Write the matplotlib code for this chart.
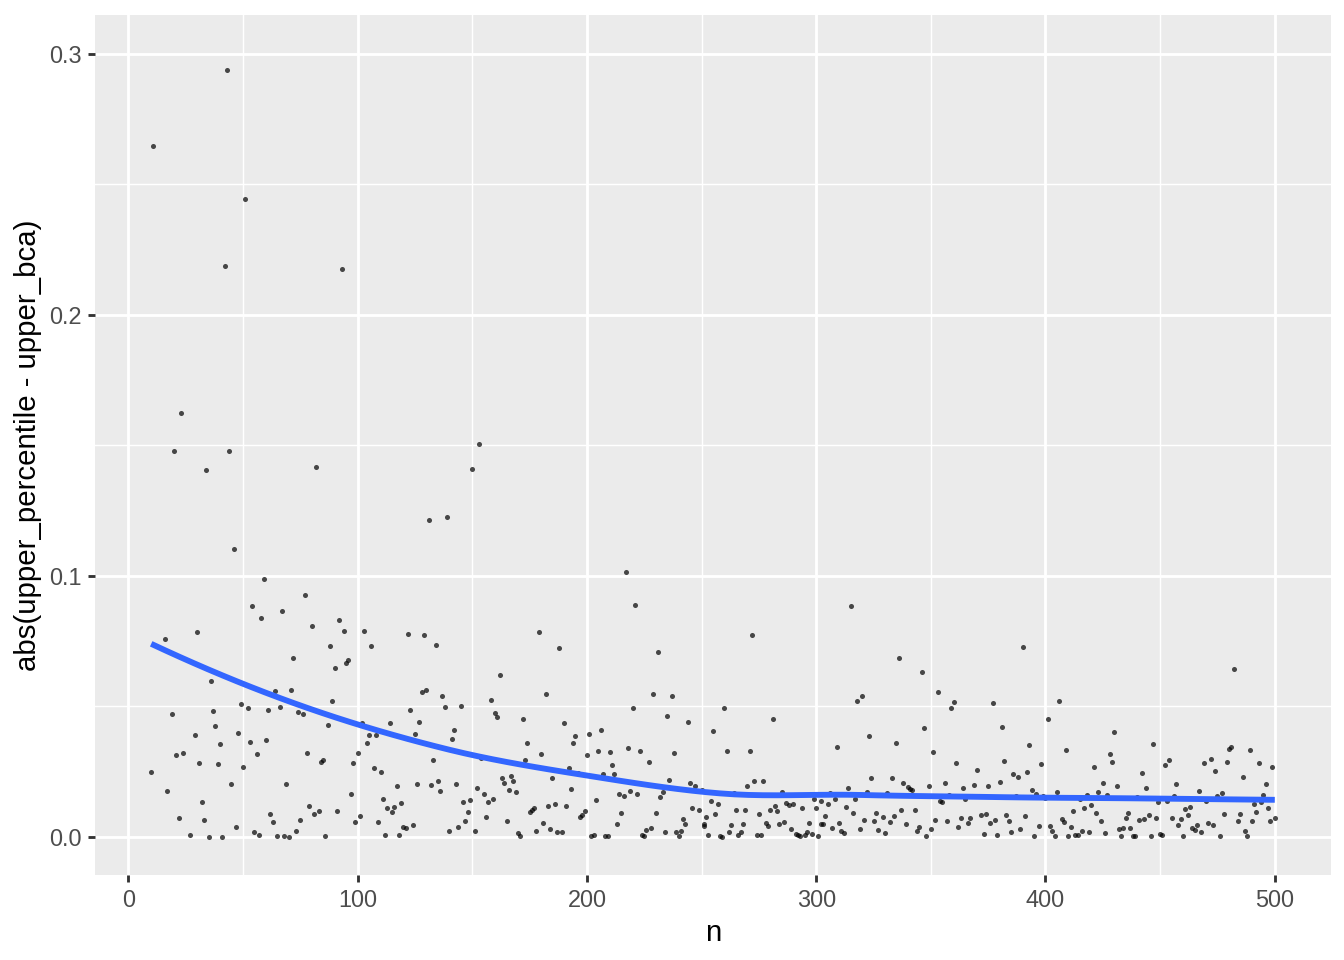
import numpy as np
import matplotlib
matplotlib.use("Agg")
import matplotlib.pyplot as plt

plt.rcParams["font.family"] = ["Liberation Sans", "DejaVu Sans"]

# --- Données (n, |upper_percentile - upper_bca|) ---
n_010 = [10, 11, 16, 17, 19, 20, 21, 22, 23, 24, 27, 29, 30, 31, 32, 33, 34, 35, 36, 37,
         38, 39, 40, 41, 42, 43, 44, 45, 46, 47, 48, 49, 50, 51, 52, 53, 54, 55, 56, 57,
         58, 59, 60, 61, 62, 63, 64, 65, 66, 67, 68, 69, 70, 71, 72, 73, 74, 75, 76, 77,
         78, 79, 80, 81, 82, 83, 84, 85, 86, 87, 88, 89, 90, 91, 92, 93, 94, 95, 96, 97,
         98, 99, 100, 101, 102, 103]
y_010 = [0.0250, 0.2646, 0.0757, 0.0176, 0.0470, 0.1479, 0.0314, 0.0072, 0.1625, 0.0321,
         0.0006, 0.0392, 0.0784, 0.0282, 0.0134, 0.0065, 0.1406, 0.0001, 0.0599, 0.0483,
         0.0424, 0.0278, 0.0355, 0.0001, 0.2188, 0.2937, 0.1479, 0.0202, 0.1103, 0.0040,
         0.0400, 0.0508, 0.0269, 0.2444, 0.0494, 0.0363, 0.0886, 0.0018, 0.0318, 0.0009,
         0.0840, 0.0987, 0.0373, 0.0488, 0.0089, 0.0056, 0.0558, 0.0003, 0.0497, 0.0867,
         0.0003, 0.0203, 0.0001, 0.0563, 0.0686, 0.0024, 0.0480, 0.0066, 0.0470, 0.0928,
         0.0323, 0.0117, 0.0808, 0.0086, 0.1418, 0.0098, 0.0287, 0.0294, 0.0004, 0.0429,
         0.0732, 0.0521, 0.0646, 0.0098, 0.0831, 0.2176, 0.0787, 0.0668, 0.0677, 0.0166,
         0.0284, 0.0057, 0.0323, 0.0082, 0.0438, 0.0789]

n_104 = list(range(104, 154)) + list(range(154, 203))
y_104 = [0.0359, 0.0392, 0.0730, 0.0263, 0.0392, 0.0057, 0.0249, 0.0147, 0.0009, 0.0112,
         0.0436, 0.0095, 0.0114, 0.0194, 0.0009, 0.0129, 0.0040, 0.0033, 0.0777, 0.0487,
         0.0046, 0.0395, 0.0202, 0.0439, 0.0554, 0.0773, 0.0563, 0.1215, 0.0198, 0.0295,
         0.0736, 0.0215, 0.0175, 0.0540, 0.0496, 0.1226, 0.0022, 0.0374, 0.0409, 0.0202,
         0.0037, 0.0502, 0.0132, 0.0060, 0.0096, 0.0142, 0.1410, 0.0022, 0.0188, 0.1506,
         0.0303, 0.0166, 0.0078, 0.0133, 0.0524, 0.0147, 0.0474, 0.0461, 0.0619, 0.0225,
         0.0208, 0.0061, 0.0180, 0.0234, 0.0216, 0.0171, 0.0014, 0.0004, 0.0451, 0.0295,
         0.0359, 0.0095, 0.0103, 0.0112, 0.0023, 0.0784, 0.0319, 0.0055, 0.0548, 0.0120,
         0.0031, 0.0224, 0.0125, 0.0020, 0.0724, 0.0020, 0.0437, 0.0119, 0.0263, 0.0185,
         0.0360, 0.0388, 0.0243, 0.0077, 0.0083, 0.0098, 0.0313, 0.0396, 0.0005]

n_203 = list(range(203, 248)) + [249, 250, 251, 251, 252] + list(range(253, 303)) + [302]
y_203 = [0.0006, 0.0142, 0.0331, 0.0409, 0.0240, 0.0003, 0.0003, 0.0327, 0.0275, 0.0240,
         0.0051, 0.0166, 0.0093, 0.0158, 0.1014, 0.0340, 0.0175, 0.0492, 0.0888, 0.0163,
         0.0328, 0.0008, 0.0003, 0.0026, 0.0287, 0.0036, 0.0549, 0.0091, 0.0708, 0.0153,
         0.0171, 0.0020, 0.0465, 0.0218, 0.0538, 0.0323, 0.0019, 0.0004, 0.0022, 0.0069,
         0.0050, 0.0439, 0.0208, 0.0111, 0.0195,
         0.0105, 0.0178, 0.0049, 0.0043, 0.0077,
         0.0006, 0.0139, 0.0405, 0.0086, 0.0125, 0.0004, 0.0001, 0.0492, 0.0330, 0.0018,
         0.0045, 0.0167, 0.0105, 0.0006, 0.0020, 0.0051, 0.0102, 0.0195, 0.0331, 0.0773,
         0.0216, 0.0008, 0.0086, 0.0006, 0.0213, 0.0052, 0.0042, 0.0105, 0.0453, 0.0120,
         0.0100, 0.0050, 0.0171, 0.0056, 0.0130, 0.0121, 0.0032, 0.0125, 0.0013, 0.0006,
         0.0005, 0.0110, 0.0009, 0.0019, 0.0052, 0.0010, 0.0147, 0.0110, 0.0004, 0.0138,
         0.0051]

n_303 = list(range(303, 404))
y_303 = [0.0050, 0.0080, 0.0125, 0.0167, 0.0036, 0.0144, 0.0345, 0.0054, 0.0024, 0.0017,
         0.0115, 0.0188, 0.0885, 0.0091, 0.0146, 0.0519, 0.0029, 0.0538, 0.0064, 0.0172,
         0.0386, 0.0225, 0.0061, 0.0091, 0.0028, 0.0162, 0.0075, 0.0017, 0.0167, 0.0057,
         0.0225, 0.0080, 0.0361, 0.0686, 0.0102, 0.0208, 0.0049, 0.0192, 0.0185, 0.0178,
         0.0102, 0.0023, 0.0040, 0.0631, 0.0419, 0.0005, 0.0195, 0.0032, 0.0327, 0.0065,
         0.0557, 0.0137, 0.0132, 0.0207, 0.0060, 0.0162, 0.0493, 0.0516, 0.0282, 0.0040,
         0.0072, 0.0189, 0.0147, 0.0052, 0.0074, 0.0155, 0.0198, 0.0255, 0.0156, 0.0083,
         0.0011, 0.0086, 0.0194, 0.0054, 0.0512, 0.0064, 0.0008, 0.0211, 0.0421, 0.0290,
         0.0083, 0.0061, 0.0018, 0.0240, 0.0155, 0.0231, 0.0032, 0.0728, 0.0079, 0.0249,
         0.0354, 0.0178, 0.0003, 0.0165, 0.0043, 0.0280, 0.0158, 0.0151, 0.0452, 0.0043,
         0.0024]

n_404 = list(range(404, 501))
y_404 = [0.0004, 0.0174, 0.0521, 0.0069, 0.0057, 0.0332, 0.0004, 0.0040, 0.0098, 0.0006,
         0.0009, 0.0147, 0.0023, 0.0109, 0.0161, 0.0019, 0.0121, 0.0266, 0.0091, 0.0171,
         0.0061, 0.0207, 0.0017, 0.0161, 0.0317, 0.0286, 0.0402, 0.0194, 0.0031, 0.0003,
         0.0033, 0.0074, 0.0093, 0.0036, 0.0004, 0.0004, 0.0152, 0.0063, 0.0246, 0.0068,
         0.0186, 0.0084, 0.0005, 0.0356, 0.0072, 0.0132, 0.0010, 0.0008, 0.0276, 0.0139,
         0.0294, 0.0074, 0.0156, 0.0202, 0.0047, 0.0069, 0.0003, 0.0106, 0.0084, 0.0114,
         0.0033, 0.0026, 0.0046, 0.0175, 0.0020, 0.0284, 0.0137, 0.0055, 0.0298, 0.0046,
         0.0252, 0.0155, 0.0004, 0.0167, 0.0086, 0.0286, 0.0336, 0.0345, 0.0642, 0.0144,
         0.0060, 0.0086, 0.0229, 0.0024, 0.0003, 0.0332, 0.0061, 0.0126, 0.0096, 0.0284,
         0.0133, 0.0161, 0.0203, 0.0110, 0.0061, 0.0266, 0.0074]

x_ticks = [0, 100, 200, 300, 400, 500]
y_ticks = [0.0, 0.1, 0.2, 0.3]
y_tick_labels = ["0.0", "0.1", "0.2", "0.3"]

n = np.array(n_010 + n_104 + n_203 + n_303 + n_404, dtype=float)
abs_diff = np.array(y_010 + y_104 + y_203 + y_303 + y_404)
order = np.argsort(n, kind="stable")
n, abs_diff = n[order], abs_diff[order]


# --- loess (span 0.75, degré 2) façon R : sommets kd + interpolation d'Hermite ---
def local_fit(x, y, x0, q):
    d = np.abs(x - x0)
    h = np.sort(d)[q - 1]
    w = np.clip(1 - (d / h) ** 3, 0, None) ** 3
    X = np.column_stack([np.ones_like(x), x - x0, (x - x0) ** 2])
    sw = np.sqrt(w)
    beta = np.linalg.lstsq(X * sw[:, None], y * sw, rcond=None)[0]
    return beta[0], beta[1]


def kd_vertices(xs, lo, hi, fc):
    pts = xs[(xs >= lo) & (xs <= hi)]
    if len(pts) <= fc:
        return [lo, hi]
    m = (len(pts) - 1) // 2
    cut = (pts[m] + pts[m + 1]) / 2
    left = kd_vertices(pts[pts <= cut], lo, cut, fc)
    right = kd_vertices(pts[pts > cut], cut, hi, fc)
    return left + right[1:]


def loess_curve(x, y, grid, span=0.75):
    q = int(np.floor(len(x) * span))
    fc = int(np.floor(len(x) * span * 0.2))
    mu = 0.005 * (x.max() - x.min())
    verts = np.array(kd_vertices(np.sort(x), x.min() - mu, x.max() + mu, fc))
    fits = np.array([local_fit(x, y, v, q) for v in verts])
    out = np.empty_like(grid)
    for i, g in enumerate(grid):
        k = min(np.searchsorted(verts, g, side="right") - 1, len(verts) - 2)
        x0, x1 = verts[k], verts[k + 1]
        hlen = x1 - x0
        t = (g - x0) / hlen
        h00 = 2 * t**3 - 3 * t**2 + 1
        h10 = t**3 - 2 * t**2 + t
        h01 = -2 * t**3 + 3 * t**2
        h11 = t**3 - t**2
        out[i] = (h00 * fits[k, 0] + h10 * hlen * fits[k, 1]
                  + h01 * fits[k + 1, 0] + h11 * hlen * fits[k + 1, 1])
    return out


grid = np.linspace(n.min(), n.max(), 80)
smooth = loess_curve(n, abs_diff, grid)

# --- Figure ---
fig = plt.figure(figsize=(7, 5), dpi=192)
ax = fig.add_axes([0.0707, 0.0882, 0.9196, 0.8962])
ax.set_facecolor("#EBEBEB")

ax.scatter(n, abs_diff, s=3.6, color="black", alpha=0.7, linewidths=0, zorder=3)
ax.plot(grid, smooth, color="#3366FF", lw=2.2, solid_capstyle="butt", zorder=4)

ax.set_xlim(-14.5, 524.5)
ax.set_ylim(-0.0147, 0.3148)
ax.set_xticks(x_ticks)
ax.set_xticklabels([str(t) for t in x_ticks])
ax.set_yticks(y_ticks)
ax.set_yticklabels(y_tick_labels)
ax.set_xticks([50, 150, 250, 350, 450], minor=True)
ax.set_yticks([0.05, 0.15, 0.25], minor=True)

ax.grid(True, which="major", color="white", lw=1.07)
ax.grid(True, which="minor", color="white", lw=0.53)
ax.set_axisbelow(True)
for s in ax.spines.values():
    s.set_visible(False)

ax.tick_params(which="major", length=2.75, width=1.07, color="#333333",
               labelcolor="#4D4D4D", labelsize=8.8, pad=2.2)
ax.tick_params(which="minor", length=0)

ax.set_xlabel("n", fontsize=11, color="black", labelpad=2.75)
ax.set_ylabel("abs(upper_percentile - upper_bca)", fontsize=11, color="black",
              labelpad=2.75)

fig.savefig("out.png", dpi=192, facecolor="white")
